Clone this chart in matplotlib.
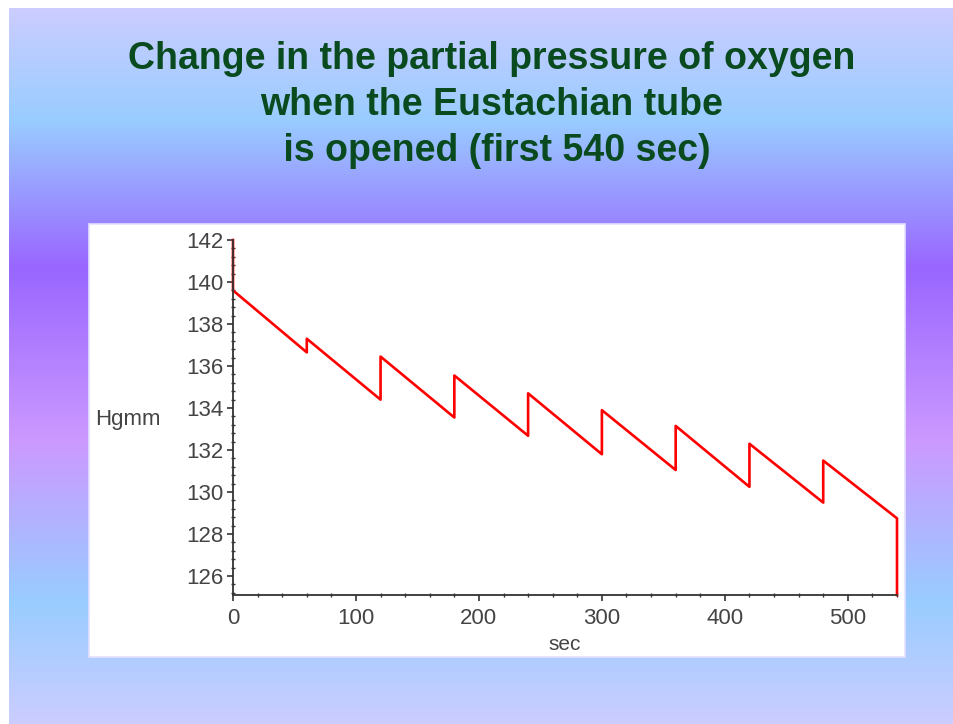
import matplotlib
matplotlib.use("Agg")
import matplotlib.pyplot as plt
from matplotlib import font_manager
from matplotlib.patches import Rectangle
import numpy as np

# ----- data -----
times = [0, 0, 60, 60, 120, 120, 180, 180, 240, 240, 300, 300,
         360, 360, 420, 420, 480, 480, 540, 540]
pressure = [142.0, 139.6, 136.65, 137.3, 134.4, 136.45, 133.55, 135.55,
            132.68, 134.7, 131.8, 133.9, 131.05, 133.15, 130.25, 132.3,
            129.5, 131.5, 128.75, 125.1]
xticks = [0, 100, 200, 300, 400, 500]
yticks = [126, 128, 130, 132, 134, 136, 138, 140, 142]

title = "Change in the partial pressure of oxygen\nwhen the Eustachian tube\n is opened (first 540 sec)"

names = {f.name for f in font_manager.fontManager.ttflist}
if "Liberation Sans Narrow" in names:
    font = "Liberation Sans Narrow"
    title_size, tick_size = 32, 18
else:
    font = "Liberation Sans"
    title_size, tick_size = 27, 16

W, H = 954, 724
fig = plt.figure(figsize=(W / 100, H / 100), dpi=100)
fig.patch.set_facecolor("white")

# slide background gradient
bg = fig.add_axes([9 / W, 0, (W - 9) / W, (H - 8) / H])
bg.set_axis_off()
stops_y = [0, 112, 259, 432, 592, 716]
stops_c = np.array([[0.80, 0.80, 1.00],
                    [0.60, 0.80, 1.00],
                    [0.60, 0.40, 1.00],
                    [0.80, 0.60, 1.00],
                    [0.60, 0.80, 1.00],
                    [0.80, 0.80, 1.00]])
yy = np.arange(716)
grad = np.stack([np.interp(yy, stops_y, stops_c[:, k]) for k in range(3)], axis=1)
bg.imshow(grad[:, None, :], aspect="auto", extent=[0, 1, 716, 0])

# white panel
fig.patches.append(Rectangle((89 / W, 1 - 657 / H), (905 - 89) / W, (657 - 224) / H,
                             transform=fig.transFigure, facecolor="white",
                             edgecolor="#e4e0ff", linewidth=1.2, zorder=1))

fig.text(492 / W, 1 - 105 / H, title, ha="center", va="center", fontsize=title_size,
         fontweight="bold", color="#0a4a1f", family=font, linespacing=1.36)

ax = fig.add_axes([233 / W, 1 - 595 / H, 664 / W, 355 / H])
ax.set_zorder(3)
ax.patch.set_alpha(0)
ax.plot(times, pressure, color="#ff0000", linewidth=1.9, clip_on=False)
ax.set_xlim(0, 540)
ax.set_ylim(125.1, 142)
ax.set_xticks(xticks)
ax.set_yticks(yticks)
ax.set_xticks(np.arange(0, 541, 20), minor=True)
ax.set_yticks(np.arange(125.2, 142.01, 0.4), minor=True)
for s in ["top", "right"]:
    ax.spines[s].set_visible(False)
for s in ["left", "bottom"]:
    ax.spines[s].set_color("#333333")
    ax.spines[s].set_linewidth(1.3)
ax.tick_params(which="major", direction="out", length=4, width=1.2, color="#333333",
               labelsize=tick_size, labelcolor="#444444", pad=3)
ax.tick_params(axis="x", which="major", pad=5)
ax.tick_params(which="minor", direction="inout", length=3, width=1.0, color="#333333")
for lab in ax.get_xticklabels() + ax.get_yticklabels():
    lab.set_family(font)

fig.text(95 / W, 1 - 420 / H, "Hgmm", ha="left", va="center", fontsize=tick_size,
         color="#444444", family=font)
fig.text(565 / W, 1 - 645 / H, "sec", ha="center", va="center", fontsize=tick_size - 1,
         color="#444444", family=font)

fig.savefig("out.png", dpi=100)
